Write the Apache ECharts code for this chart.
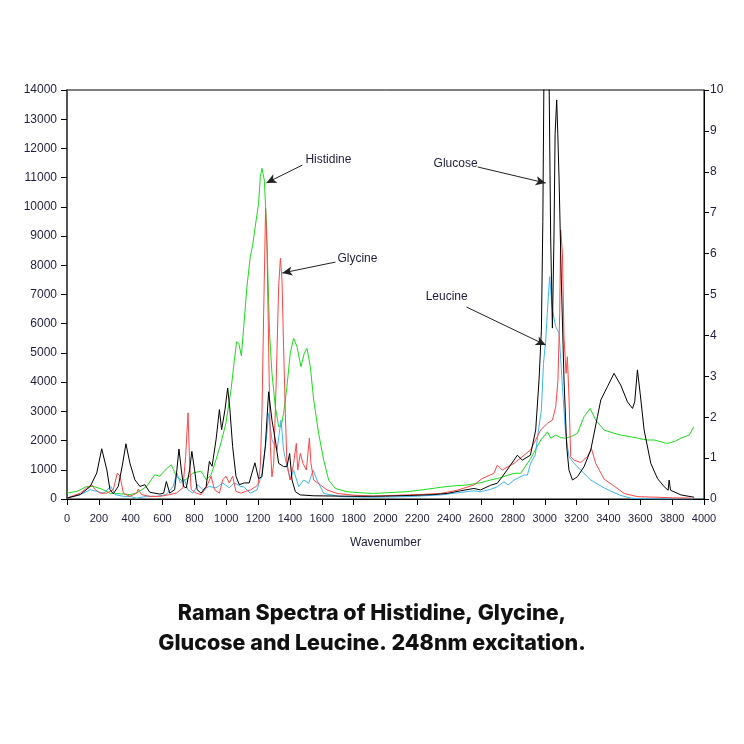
<!DOCTYPE html>
<html>
<head>
<meta charset="utf-8">
<script src="https://cdn.jsdelivr.net/npm/echarts@6/dist/echarts.min.js"></script>
<style>
  html, body { margin: 0; padding: 0; background: #fff; }
  #chart { width: 744px; height: 744px; }
</style>
</head>
<body>
<div id="chart"></div>
<script>
// wavenumber / intensity pairs (left axis units)
const histidineWn = [0, 62, 125, 166, 218, 270, 354, 395, 437, 500, 551, 582, 624, 655, 686, 728, 759, 790, 842, 874, 905, 936, 967, 998, 1030, 1050, 1065, 1080, 1095, 1110, 1130, 1151, 1166, 1182, 1203, 1214, 1224, 1239, 1251, 1260, 1272, 1287, 1308, 1329, 1344, 1360, 1381, 1402, 1423, 1444, 1469, 1490, 1507, 1528, 1549, 1580, 1612, 1643, 1685, 1759, 1850, 1926, 2030, 2136, 2240, 2346, 2430, 2513, 2600, 2660, 2702, 2807, 2849, 2912, 2975, 3017, 3038, 3069, 3100, 3132, 3170, 3205, 3247, 3285, 3320, 3373, 3435, 3478, 3540, 3583, 3645, 3688, 3750, 3771, 3820, 3855, 3908, 3935]
const histidineVal = [200, 260, 430, 430, 340, 200, 170, 150, 205, 430, 830, 780, 1030, 1170, 780, 600, 720, 890, 950, 660, 830, 1350, 1920, 2600, 3740, 4700, 5380, 5300, 4900, 5900, 7270, 8290, 8690, 9320, 10120, 11030, 11320, 10920, 9550, 7950, 5670, 4300, 3160, 2480, 2480, 2930, 3840, 4990, 5500, 5220, 4530, 4990, 5160, 4530, 3390, 2250, 1330, 650, 360, 250, 210, 190, 220, 250, 320, 400, 450, 480, 560, 650, 700, 880, 880, 1390, 2020, 2300, 2080, 2190, 2100, 2080, 2150, 2250, 2820, 3100, 2700, 2360, 2250, 2190, 2130, 2080, 2020, 2020, 1930, 1900, 1980, 2080, 2190, 2470]

const glycineWn = [0, 83, 125, 156, 177, 208, 250, 291, 316, 333, 354, 395, 437, 447, 468, 520, 582, 645, 686, 728, 745, 760, 770, 780, 811, 842, 874, 905, 926, 957, 978, 998, 1019, 1040, 1061, 1092, 1123, 1155, 1186, 1200, 1214, 1224, 1235, 1247, 1256, 1266, 1277, 1287, 1298, 1314, 1329, 1340, 1350, 1360, 1371, 1381, 1402, 1423, 1440, 1449, 1465, 1482, 1503, 1522, 1532, 1549, 1591, 1633, 1696, 1800, 1926, 2030, 2136, 2240, 2346, 2450, 2555, 2607, 2681, 2702, 2733, 2807, 2911, 2974, 3016, 3048, 3069, 3083, 3094, 3100, 3111, 3121, 3134, 3142, 3152, 3163, 3184, 3226, 3268, 3293, 3320, 3373, 3436, 3499, 3582, 3708, 3800, 3917]
const glycineVal = [30, 200, 380, 490, 320, 200, 200, 320, 890, 780, 200, 90, 200, 340, 150, 90, 90, 150, 200, 380, 1460, 2950, 1230, 320, 200, 150, 380, 780, 320, 200, 660, 780, 550, 780, 260, 200, 260, 320, 430, 500, 1110, 2930, 6360, 9950, 8640, 5210, 1790, 760, 1220, 4070, 7270, 8240, 7500, 5210, 2930, 1220, 650, 1220, 1900, 990, 1560, 1220, 990, 2080, 1220, 650, 480, 310, 190, 130, 100, 120, 140, 160, 190, 300, 480, 700, 880, 1160, 990, 1220, 1680, 2360, 2590, 2700, 3160, 4070, 6360, 9210, 8410, 5500, 4300, 4870, 3500, 1450, 1330, 1250, 1450, 1730, 1220, 680, 440, 190, 80, 60, 40, 30]

const glucoseWn = [0, 83, 146, 187, 218, 250, 270, 291, 322, 350, 370, 395, 426, 458, 489, 520, 582, 607, 624, 645, 676, 690, 703, 718, 732, 749, 770, 784, 801, 817, 842, 874, 894, 911, 936, 957, 971, 992, 1009, 1023, 1040, 1061, 1082, 1113, 1144, 1161, 1180, 1203, 1224, 1245, 1266, 1287, 1308, 1329, 1360, 1381, 1398, 1413, 1434, 1465, 1550, 1700, 1850, 2000, 2150, 2300, 2388, 2470, 2555, 2597, 2660, 2702, 2733, 2807, 2828, 2859, 2910, 2943, 2964, 2979, 2988, 2995, 3010, 3027, 3037, 3048, 3058, 3065, 3075, 3082, 3090, 3104, 3121, 3138, 3152, 3174, 3205, 3247, 3289, 3331, 3352, 3393, 3435, 3477, 3519, 3551, 3565, 3582, 3599, 3624, 3666, 3708, 3750, 3775, 3781, 3790, 3802, 3855, 3938]
const glucoseVal = [30, 150, 430, 890, 1720, 1000, 320, 180, 430, 1230, 1890, 1230, 660, 430, 490, 230, 170, 200, 600, 200, 320, 1000, 1710, 1000, 430, 380, 1000, 1630, 1000, 320, 200, 430, 1290, 1120, 2030, 3060, 2370, 3060, 3800, 3060, 1800, 780, 490, 550, 550, 880, 1240, 700, 760, 1790, 3670, 2700, 2020, 1220, 1110, 1110, 1560, 650, 250, 140, 110, 100, 90, 100, 120, 150, 190, 280, 360, 310, 470, 540, 760, 1330, 1500, 1330, 1500, 2360, 4070, 5780, 9500, 14500, 19000, 14500, 9000, 5850, 9000, 12500, 13660, 12500, 10920, 7500, 4070, 1790, 990, 650, 760, 1110, 1680, 2820, 3390, 3840, 4300, 3900, 3330, 3100, 3330, 4420, 3620, 2360, 1220, 700, 420, 300, 650, 300, 250, 140, 60]

const leucineWn = [0, 83, 146, 187, 229, 275, 302, 354, 395, 437, 500, 562, 624, 666, 690, 711, 738, 759, 790, 822, 853, 894, 936, 978, 1019, 1050, 1092, 1109, 1151, 1193, 1224, 1251, 1266, 1287, 1319, 1344, 1360, 1381, 1402, 1423, 1455, 1486, 1518, 1545, 1570, 1612, 1717, 1926, 2136, 2346, 2450, 2555, 2597, 2660, 2702, 2744, 2770, 2807, 2870, 2891, 2911, 2940, 2964, 2979, 2992, 3006, 3016, 3031, 3048, 3069, 3090, 3111, 3131, 3152, 3184, 3226, 3268, 3289, 3373, 3435, 3478, 3541, 3582, 3700, 3930]
const leucineVal = [30, 150, 320, 260, 200, 430, 150, 90, 90, 30, 90, 90, 150, 430, 890, 550, 660, 320, 200, 490, 320, 430, 380, 550, 380, 550, 430, 420, 200, 310, 880, 2020, 2930, 2020, 1680, 2700, 1680, 1110, 650, 990, 420, 650, 540, 990, 650, 190, 80, 60, 80, 140, 210, 280, 250, 330, 420, 590, 480, 650, 820, 820, 1220, 1500, 2480, 3050, 4640, 5440, 6360, 7610, 6470, 5900, 5670, 3840, 2250, 1450, 1220, 990, 760, 650, 380, 220, 120, 30, 10, 0, 0]

const xTicks = [0, 4000, 200]
const leftTicks = [0, 14000, 1000]
const rightTicks = [0, 10, 1]

// annotation: name, text anchor, arrow start, arrow tip (data coords)
const notes = [
  { name: 'Histidine', text: [1497, 11600], from: [1478, 11430], to: [1252, 10820] },
  { name: 'Glycine', text: [1698, 8215], from: [1686, 8110], to: [1352, 7735] },
  { name: 'Glucose', text: [2302, 11467], from: [2579, 11365], to: [3006, 10815] },
  { name: 'Leucine', text: [2252, 6915], from: [2509, 6570], to: [3006, 5270] }
]

const pairs = (wn, val) => wn.map((w, i) => [w, val[i]])

const labelColor = '#1e1e3c'
const font = 'Liberation Sans'

let chart = echarts.init(document.getElementById('chart'))

const option = {
  animation: false,
  backgroundColor: '#fff',
  title: {
    text: 'Raman Spectra of Histidine, Glycine,\nGlucose and Leucine. 248nm excitation.',
    left: 'center',
    top: 594,
    textStyle: {
      fontFamily: 'Inter',
      fontWeight: 800,
      fontSize: 21.5,
      lineHeight: 30,
      color: '#111'
    }
  },
  grid: {
    left: 67, right: 40, top: 90, bottom: 245,
    show: true,
    borderColor: '#000',
    borderWidth: 1
  },
  xAxis: {
    type: 'value',
    min: xTicks[0], max: xTicks[1], interval: xTicks[2],
    name: 'Wavenumber',
    nameLocation: 'middle',
    nameGap: 38,
    nameTextStyle: { color: labelColor, fontFamily: font, fontSize: 12 },
    splitLine: { show: false },
    axisLine: { show: true, onZero: false, lineStyle: { color: '#000', width: 1 } },
    axisTick: { show: true, length: 6, lineStyle: { color: '#000' } },
    axisLabel: { color: labelColor, fontFamily: font, fontSize: 11, margin: 14, formatter: v => String(v) }
  },
  yAxis: [
    {
      type: 'value',
      min: leftTicks[0], max: leftTicks[1], interval: leftTicks[2],
      splitLine: { show: false },
      axisLine: { show: true, lineStyle: { color: '#555', width: 2 } },
      axisTick: { show: true, length: 6, lineStyle: { color: '#000' } },
      axisLabel: { color: labelColor, fontFamily: font, fontSize: 12, margin: 10, formatter: v => String(v) }
    },
    {
      type: 'value',
      position: 'right',
      min: rightTicks[0], max: rightTicks[1], interval: rightTicks[2],
      splitLine: { show: false },
      axisLine: { show: true, lineStyle: { color: '#000', width: 1 } },
      axisTick: { show: true, length: 5, lineStyle: { color: '#000' } },
      axisLabel: { color: labelColor, fontFamily: font, fontSize: 12, margin: 6 }
    }
  ],
  series: [
    {
      name: 'Histidine', type: 'line', showSymbol: false, clip: true,
      lineStyle: { color: '#19dd19', width: 1 },
      data: pairs(histidineWn, histidineVal)
    },
    {
      name: 'Leucine', type: 'line', showSymbol: false, clip: true,
      lineStyle: { color: '#3bb6f2', width: 1 },
      data: pairs(leucineWn, leucineVal)
    },
    {
      name: 'Glycine', type: 'line', showSymbol: false, clip: true,
      lineStyle: { color: '#ff4545', width: 1 },
      data: pairs(glycineWn, glycineVal)
    },
    {
      name: 'Glucose', type: 'line', showSymbol: false, clip: true,
      lineStyle: { color: '#000', width: 1 },
      data: pairs(glucoseWn, glucoseVal),
      markLine: {
        silent: true,
        symbol: ['none', 'arrow'],
        symbolSize: [7, 10],
        lineStyle: { color: '#222', width: 1, type: 'solid' },
        label: { show: false },
        data: notes.map(n => [{ coord: n.from }, { coord: n.to }])
      },
      markPoint: {
        silent: true,
        symbol: 'circle',
        symbolSize: 0,
        data: notes.map(n => ({
          coord: n.text,
          label: {
            show: true,
            position: 'right',
            distance: 0,
            formatter: n.name,
            color: labelColor,
            fontFamily: font,
            fontSize: 12
          }
        }))
      }
    }
  ]
}

chart.setOption(option)
</script>
</body>
</html>
